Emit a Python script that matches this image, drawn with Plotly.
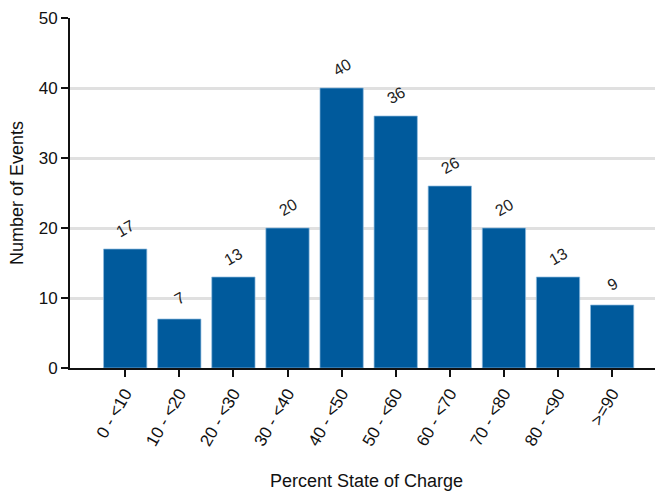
import plotly.graph_objects as go

categories = ["0 - <10", "10 - <20", "20 - <30", "30 - <40", "40 - <50",
              "50 - <60", "60 - <70", "70 - <80", "80 - <90", ">=90"]
events = [17, 7, 13, 20, 40, 36, 26, 20, 13, 9]
y_ticks = [0, 10, 20, 30, 40, 50]

font_family = "Liberation Sans, Arial, sans-serif"
bar_color = "#005a9c"

fig = go.Figure()
fig.add_trace(go.Bar(
    x=list(range(len(categories))),
    y=events,
    marker=dict(color=bar_color, line=dict(color="#8fbbe0", width=0.7)),
    width=0.8,
    hoverinfo="skip",
))

for i, v in enumerate(events):
    fig.add_annotation(
        x=i, y=v, text=str(v), showarrow=False, textangle=-30,
        yshift=21, font=dict(family=font_family, size=16, color="#222"),
        xref="x", yref="y",
    )

# axis titles as annotations for exact placement
fig.add_annotation(
    xref="paper", yref="paper", x=0, y=0.5, xshift=-53, text="Number of Events",
    textangle=-90, showarrow=False, xanchor="center", yanchor="middle",
    font=dict(family=font_family, size=18, color="#111"),
)
fig.add_annotation(
    xref="paper", yref="paper", x=0.5, y=0, yshift=-113, text="Percent State of Charge",
    showarrow=False, xanchor="center", yanchor="middle",
    font=dict(family=font_family, size=18, color="#111"),
)

fig.update_layout(
    width=655, height=486,
    margin=dict(l=62, r=0, t=10, b=126, autoexpand=False),
    paper_bgcolor="white", plot_bgcolor="white",
    showlegend=False,
    font=dict(family=font_family, size=17, color="#111"),
    xaxis=dict(
        range=[-1.02, 9.94],
        tickmode="array",
        tickvals=list(range(len(categories))),
        ticktext=categories,
        tickangle=-60,
        tickfont=dict(size=17),
        ticks="outside", ticklen=7, tickwidth=2, tickcolor="#111",
        showline=True, linecolor="#111", linewidth=2,
        showgrid=False, zeroline=False, automargin=False,
    ),
    yaxis=dict(
        range=[0, 50],
        tickmode="array",
        tickvals=y_ticks,
        ticks="outside", ticklen=7, tickwidth=2, tickcolor="#111",
        tickfont=dict(size=17),
        showline=True, linecolor="#111", linewidth=2,
        showgrid=True, gridcolor="#e0e0e0", gridwidth=2.5,
        zeroline=False, automargin=False,
    ),
)

fig.write_html("out.html")
